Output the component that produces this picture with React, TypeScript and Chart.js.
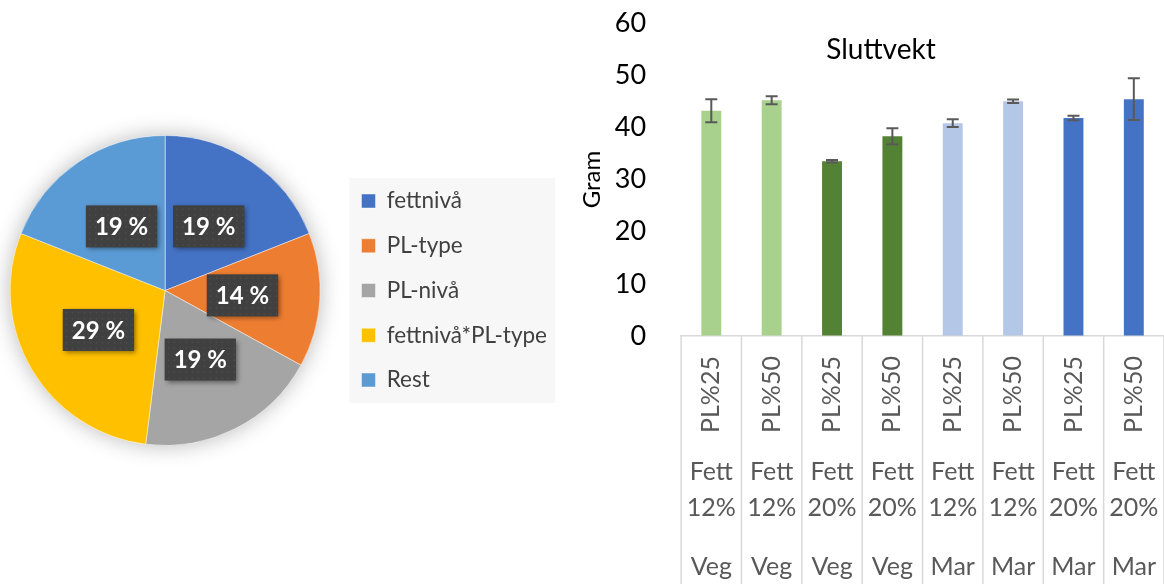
import React, { useEffect, useRef } from 'react';
import { Chart, registerables } from 'chart.js';

Chart.register(...registerables);

const FONT = 'Lato, "Open Sans", sans-serif';

// ---- Pie data ----
const pieLabels = ['fettnivå', 'PL-type', 'PL-nivå', 'fettnivå*PL-type', 'Rest'];
const pieValues = [19, 14, 19, 29, 19];
const pieColors = ['#4472C4', '#ED7D31', '#A5A5A5', '#FFC000', '#5B9BD5'];

// ---- Bar data ----
const barPL = ['PL%25', 'PL%50', 'PL%25', 'PL%50', 'PL%25', 'PL%50', 'PL%25', 'PL%50'];
const barFett = [
  ['Fett', '12%'], ['Fett', '12%'], ['Fett', '20%'], ['Fett', '20%'],
  ['Fett', '12%'], ['Fett', '12%'], ['Fett', '20%'], ['Fett', '20%'],
];
const barType = ['Veg', 'Veg', 'Veg', 'Veg', 'Mar', 'Mar', 'Mar', 'Mar'];
const barValues = [43.2, 45.2, 33.5, 38.3, 40.8, 45.0, 41.8, 45.4];
const barErrors = [2.2, 0.75, 0.25, 1.55, 0.75, 0.35, 0.45, 4.0];
const barColors = ['#A9D18E', '#A9D18E', '#548235', '#548235', '#B4C7E7', '#B4C7E7', '#4472C4', '#4472C4'];
const yMin = 0;
const yMax = 60;
const yStep = 10;

// ---- Plugins ----
const pieShadow = {
  id: 'pieShadow',
  beforeDatasetsDraw(chart: any) {
    const arc: any = chart.getDatasetMeta(0).data[0];
    if (!arc) return;
    const { x, y, outerRadius } = arc.getProps(['x', 'y', 'outerRadius'], true);
    const ctx = chart.ctx;
    ctx.save();
    ctx.shadowColor = 'rgba(0,0,0,0.28)';
    ctx.shadowBlur = 22;
    ctx.fillStyle = '#ffffff';
    ctx.beginPath();
    ctx.arc(x, y, outerRadius, 0, Math.PI * 2);
    ctx.fill();
    ctx.restore();
  },
};

const legendBg = {
  id: 'legendBg',
  beforeDraw(chart: any) {
    const lg: any = chart.legend;
    if (!lg || !lg.legendHitBoxes || !lg.legendHitBoxes.length) return;
    const hb = lg.legendHitBoxes;
    const left = Math.min(...hb.map((h: any) => h.left)) - 12;
    const right = Math.max(...hb.map((h: any) => h.left + h.width)) + 8;
    const first = hb[0];
    const last = hb[hb.length - 1];
    const top = first.top + first.height / 2 - 23;
    const bottom = last.top + last.height / 2 + 23;
    const ctx = chart.ctx;
    ctx.save();
    ctx.fillStyle = '#F7F7F7';
    ctx.fillRect(left, top, right - left, bottom - top);
    ctx.restore();
  },
};

const pieLabelBoxes = {
  id: 'pieLabelBoxes',
  afterDatasetsDraw(chart: any) {
    const meta = chart.getDatasetMeta(0);
    const data: number[] = chart.data.datasets[0].data;
    const total = data.reduce((a, b) => a + b, 0);
    const ctx = chart.ctx;
    meta.data.forEach((arc: any, i: number) => {
      const p = arc.getCenterPoint(true);
      const text = Math.round((data[i] / total) * 100) + ' %';
      ctx.save();
      ctx.font = `bold 24px ${FONT}`;
      const tw = ctx.measureText(text).width;
      const w = tw + 18;
      const h = 42;
      const bx = p.x - w / 2;
      const by = p.y - h / 2;
      ctx.shadowColor = 'rgba(0,0,0,0.45)';
      ctx.shadowBlur = 5;
      ctx.shadowOffsetX = 2;
      ctx.shadowOffsetY = 2;
      ctx.fillStyle = '#404040';
      ctx.fillRect(bx, by, w, h);
      ctx.shadowColor = 'transparent';
      ctx.fillStyle = 'rgba(255,255,255,0.07)';
      for (let yy = by + 3; yy < by + h - 1; yy += 6) {
        for (let xx = bx + 3; xx < bx + w - 1; xx += 6) {
          ctx.fillRect(xx, yy, 1.5, 1.5);
        }
      }
      ctx.fillStyle = '#ffffff';
      ctx.textAlign = 'center';
      ctx.textBaseline = 'middle';
      ctx.fillText(text, p.x, p.y + 1);
      ctx.restore();
    });
  },
};

const errorBars = {
  id: 'errorBars',
  afterDatasetsDraw(chart: any) {
    const meta = chart.getDatasetMeta(0);
    const ys = chart.scales.y;
    const data: number[] = chart.data.datasets[0].data;
    const ctx = chart.ctx;
    ctx.save();
    ctx.strokeStyle = '#595959';
    ctx.lineWidth = 2;
    meta.data.forEach((bar: any, i: number) => {
      const v = data[i];
      const e = barErrors[i];
      const t = ys.getPixelForValue(v + e);
      const b = ys.getPixelForValue(v - e);
      ctx.beginPath();
      ctx.moveTo(bar.x, t);
      ctx.lineTo(bar.x, b);
      ctx.moveTo(bar.x - 6, t);
      ctx.lineTo(bar.x + 6, t);
      ctx.moveTo(bar.x - 6, b);
      ctx.lineTo(bar.x + 6, b);
      ctx.stroke();
    });
    ctx.restore();
  },
};

const categoryGrid = {
  id: 'categoryGrid',
  afterDraw(chart: any) {
    const xs = chart.scales.x;
    const n = xs.getLabels().length;
    const ctx = chart.ctx;
    ctx.save();
    ctx.strokeStyle = '#D9D9D9';
    ctx.lineWidth = 1.5;
    ctx.beginPath();
    for (let i = 0; i <= n; i++) {
      const px = xs.getPixelForValue(i - 0.5);
      ctx.moveTo(px, chart.chartArea.bottom);
      ctx.lineTo(px, chart.height);
    }
    ctx.stroke();
    ctx.restore();
  },
};

const hiddenTicks = (len: number) => ({
  display: true,
  drawOnChartArea: false,
  drawTicks: true,
  tickLength: len,
  color: 'rgba(0,0,0,0)',
});

export default function App() {
  const pieRef = useRef<HTMLCanvasElement>(null);
  const barRef = useRef<HTMLCanvasElement>(null);

  useEffect(() => {
    const pie = new Chart(pieRef.current as HTMLCanvasElement, {
      type: 'pie',
      data: {
        labels: pieLabels,
        datasets: [
          {
            data: pieValues,
            backgroundColor: pieColors,
            borderColor: 'rgba(255,255,255,0.6)',
            borderWidth: 0.75,
            radius: 155,
          } as any,
        ],
      },
      options: {
        animation: false,
        responsive: false,
        layout: { padding: { bottom: 3 } },
        plugins: {
          tooltip: { enabled: false },
          legend: {
            position: 'right',
            labels: {
              boxWidth: 14,
              boxHeight: 14,
              padding: 22.25,
              color: '#404040',
              font: { family: FONT, size: 22.5 },
            },
          },
        },
      } as any,
      plugins: [legendBg, pieShadow, pieLabelBoxes],
    });

    const tickFont = { family: FONT, size: 25 };
    const bar = new Chart(barRef.current as HTMLCanvasElement, {
      type: 'bar',
      data: {
        labels: barPL,
        datasets: [
          {
            data: barValues,
            backgroundColor: barColors,
            barPercentage: 0.33,
            categoryPercentage: 1,
            xAxisID: 'x',
            yAxisID: 'y',
          },
        ],
      },
      options: {
        animation: false,
        responsive: false,
        layout: { padding: { left: 23, right: 0, top: 23, bottom: 2 } },
        plugins: {
          legend: { display: false },
          tooltip: { enabled: false },
          title: {
            display: true,
            text: 'Sluttvekt',
            color: '#000000',
            font: { family: FONT, size: 28, weight: 'normal', lineHeight: 1.2 },
            padding: { top: 10.2, bottom: -43.8 },
          },
        },
        scales: {
          y: {
            min: yMin,
            max: yMax,
            ticks: { stepSize: yStep, padding: 0, color: '#000000', font: { family: FONT, size: 27 } },
            grid: hiddenTicks(35),
            border: { display: false },
            title: {
              display: true,
              text: 'Gram',
              color: '#000000',
              font: { family: FONT, size: 24, lineHeight: 1.2 },
              padding: { top: -20, bottom: 8 },
            },
          },
          x: {
            position: 'bottom',
            weight: 0,
            ticks: { minRotation: 90, maxRotation: 90, autoSkip: false, padding: 0, color: '#595959', font: tickFont },
            grid: hiddenTicks(20),
            border: { display: true, color: '#D9D9D9', width: 1.5 },
          },
          x2: {
            type: 'category',
            position: 'bottom',
            weight: 1,
            offset: true,
            labels: barFett as any,
            ticks: { minRotation: 0, maxRotation: 0, autoSkip: false, padding: 0, color: '#595959', font: { ...tickFont, lineHeight: 1.44 } },
            grid: hiddenTicks(21),
            border: { display: false },
          },
          x3: {
            type: 'category',
            position: 'bottom',
            weight: 2,
            offset: true,
            labels: barType,
            ticks: { minRotation: 0, maxRotation: 0, autoSkip: false, padding: 0, color: '#595959', font: tickFont },
            grid: hiddenTicks(26),
            border: { display: false },
          },
        },
      } as any,
      plugins: [errorBars, categoryGrid],
    });

    return () => {
      pie.destroy();
      bar.destroy();
    };
  }, []);

  return (
    <div style={{ position: 'absolute', left: 0, top: 0, width: 1164, height: 584, overflow: 'hidden', background: '#ffffff' }}>
      <canvas ref={pieRef} width={566} height={584} style={{ position: 'absolute', left: -9, top: 0, width: 566, height: 584 }} />
      <canvas ref={barRef} width={589} height={584} style={{ position: 'absolute', left: 575, top: 0, width: 589, height: 584 }} />
    </div>
  );
}
